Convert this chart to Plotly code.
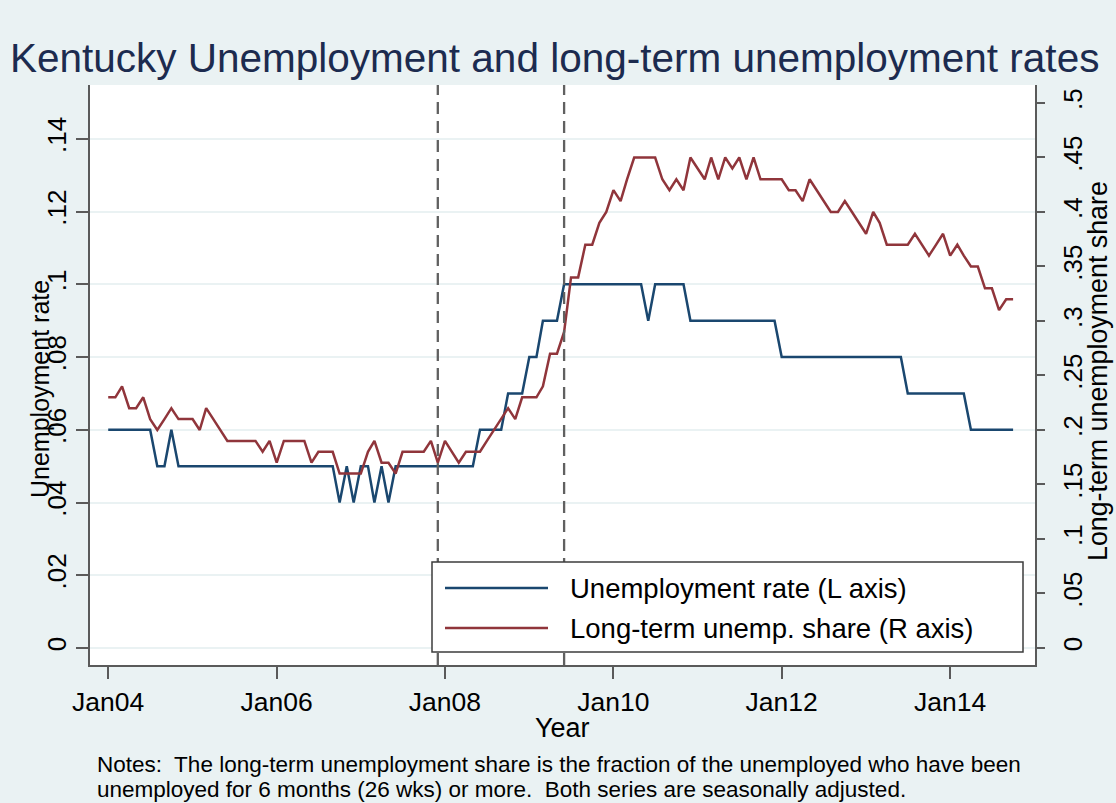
import pandas as pd
import plotly.graph_objects as go

# ---------------- data ----------------
months = pd.date_range("2004-01-01", periods=130, freq="MS")

unemp_rate = [
    # 2004
    .06, .06, .06, .06, .06, .06, .06, .05, .05, .06, .05, .05,
    # 2005
    .05, .05, .05, .05, .05, .05, .05, .05, .05, .05, .05, .05,
    # 2006
    .05, .05, .05, .05, .05, .05, .05, .05, .05, .04, .05, .04,
    # 2007
    .05, .05, .04, .05, .04, .05, .05, .05, .05, .05, .05, .05,
    # 2008
    .05, .05, .05, .05, .05, .06, .06, .06, .06, .07, .07, .07,
    # 2009
    .08, .08, .09, .09, .09, .10, .10, .10, .10, .10, .10, .10,
    # 2010
    .10, .10, .10, .10, .10, .09, .10, .10, .10, .10, .10, .09,
    # 2011
    .09, .09, .09, .09, .09, .09, .09, .09, .09, .09, .09, .09,
    # 2012
    .08, .08, .08, .08, .08, .08, .08, .08, .08, .08, .08, .08,
    # 2013
    .08, .08, .08, .08, .08, .08, .07, .07, .07, .07, .07, .07,
    # 2014
    .07, .07, .07, .06, .06, .06, .06, .06, .06, .06,
]

lt_share = [
    # 2004
    .23, .23, .24, .22, .22, .23, .21, .20, .21, .22, .21, .21,
    # 2005
    .21, .20, .22, .21, .20, .19, .19, .19, .19, .19, .18, .19,
    # 2006
    .17, .19, .19, .19, .19, .17, .18, .18, .18, .16, .16, .16,
    # 2007
    .16, .18, .19, .17, .17, .16, .18, .18, .18, .18, .19, .17,
    # 2008
    .19, .18, .17, .18, .18, .18, .19, .20, .21, .22, .21, .23,
    # 2009
    .23, .23, .24, .27, .27, .29, .34, .34, .37, .37, .39, .40,
    # 2010
    .42, .41, .43, .45, .45, .45, .45, .43, .42, .43, .42, .45,
    # 2011
    .44, .43, .45, .43, .45, .44, .45, .43, .45, .43, .43, .43,
    # 2012
    .43, .42, .42, .41, .43, .42, .41, .40, .40, .41, .40, .39,
    # 2013
    .38, .40, .39, .37, .37, .37, .37, .38, .37, .36, .37, .38,
    # 2014
    .36, .37, .36, .35, .35, .33, .33, .31, .32, .32,
]

recession_lines = ["2007-12-01", "2009-06-01"]

x_tickvals = ["2004-01-01", "2006-01-01", "2008-01-01", "2010-01-01", "2012-01-01", "2014-01-01"]
x_ticktext = ["Jan04", "Jan06", "Jan08", "Jan10", "Jan12", "Jan14"]

yl_tickvals = [0, .02, .04, .06, .08, .10, .12, .14]
yl_ticktext = ["0", ".02", ".04", ".06", ".08", ".1", ".12", ".14"]

yr_tickvals = [0, .05, .10, .15, .20, .25, .30, .35, .40, .45, .50]
yr_ticktext = ["0", ".05", ".1", ".15", ".2", ".25", ".3", ".35", ".4", ".45", ".5"]

series_names = ["Unemployment rate (L axis)", "Long-term unemp. share (R axis)"]

notes_lines = [
    "Notes:  The long-term unemployment share is the fraction of the unemployed who have been",
    "unemployed for 6 months (26 wks) or more.  Both series are seasonally adjusted.",
]

# ---------------- style ----------------
BLUE = "#1a476f"
RED = "#90353b"
BG = "#eaf2f3"
AXC = "#5a5a5a"
FONT = "Liberation Sans, Arial, Helvetica, sans-serif"

W, H = 1116, 803
L, R, T, B = 90, 81, 85, 138
PW, PH = W - L - R, H - T - B


def px_x(p):
    return (p - L) / PW


def px_y(p):
    return (H - B - p) / PH


fig = go.Figure()
fig.add_trace(go.Scatter(x=months, y=unemp_rate, mode="lines", name=series_names[0],
                         line=dict(color=BLUE, width=2.5), yaxis="y"))
fig.add_trace(go.Scatter(x=months, y=lt_share, mode="lines", name=series_names[1],
                         line=dict(color=RED, width=2.5), yaxis="y2"))

shapes = []
for d in recession_lines:
    shapes.append(dict(type="line", xref="x", yref="paper", x0=d, x1=d, y0=0, y1=1,
                       line=dict(color="#606060", width=2.3, dash="12px,7px"), layer="above"))

# legend box (drawn manually to match the long Stata legend keys)
shapes.append(dict(type="rect", xref="paper", yref="paper",
                   x0=px_x(432), x1=px_x(1023), y0=px_y(652), y1=px_y(562),
                   line=dict(color="#3c3c3c", width=1.5), fillcolor="white", layer="above"))
legend_rows = [(BLUE, 588), (RED, 628)]
annotations = []
for (col, yy), name in zip(legend_rows, series_names):
    shapes.append(dict(type="line", xref="paper", yref="paper",
                       x0=px_x(445), x1=px_x(548), y0=px_y(yy), y1=px_y(yy),
                       line=dict(color=col, width=2.5), layer="above"))
    annotations.append(dict(xref="paper", yref="paper", x=px_x(568), y=px_y(yy),
                            text=name, showarrow=False, xanchor="left", yanchor="middle",
                            font=dict(family=FONT, size=27.5, color="black")))

# axis titles
annotations.append(dict(xref="paper", yref="paper", x=px_x(40), y=px_y(389),
                        text="Unemployment rate", textangle=-90, showarrow=False,
                        xanchor="center", yanchor="middle",
                        font=dict(family=FONT, size=25, color="black")))
annotations.append(dict(xref="paper", yref="paper", x=px_x(1098), y=px_y(371),
                        text="Long-term unemployment share", textangle=-90, showarrow=False,
                        xanchor="center", yanchor="middle",
                        font=dict(family=FONT, size=26.8, color="black")))
annotations.append(dict(xref="paper", yref="paper", x=px_x(562), y=px_y(728),
                        text="Year", showarrow=False, xanchor="center", yanchor="middle",
                        font=dict(family=FONT, size=27, color="black")))
# notes
for txt, yy in zip(notes_lines, [764, 789]):
    annotations.append(dict(xref="paper", yref="paper", x=px_x(95), y=px_y(yy),
                            text=txt, showarrow=False, xanchor="left", yanchor="middle",
                            font=dict(family=FONT, size=22.5, color="black")))

fig.update_layout(
    width=W, height=H,
    margin=dict(l=L, r=R, t=T, b=B),
    paper_bgcolor=BG, plot_bgcolor="white",
    showlegend=False,
    title=dict(text="Kentucky Unemployment and long-term unemployment rates",
               x=0.497, xanchor="center", y=1 - 58 / H, yanchor="middle", yref="container",
               font=dict(family=FONT, size=40.5, color="#1c2b4f")),
    font=dict(family=FONT, color="black"),
    xaxis=dict(type="date", range=["2003-10-14", "2015-01-04"],
               tickvals=x_tickvals, ticktext=x_ticktext,
               ticks="outside", ticklen=12, tickwidth=1.5, tickcolor=AXC,
               showline=True, linecolor=AXC, linewidth=1.5,
               showgrid=False, zeroline=False,
               tickfont=dict(family=FONT, size=26.5, color="black")),
    yaxis=dict(range=[-0.00468, 0.1548], tickvals=yl_tickvals, ticktext=yl_ticktext,
               tickangle=-90, ticks="outside", ticklen=12, tickwidth=1.5, tickcolor=AXC,
               showline=True, linecolor=AXC, linewidth=1.5,
               showgrid=True, gridcolor=BG, gridwidth=1.5, zeroline=False,
               tickfont=dict(family=FONT, size=26, color="black")),
    yaxis2=dict(range=[-0.0156, 0.5165], tickvals=yr_tickvals, ticktext=yr_ticktext,
                overlaying="y", side="right",
                tickangle=-90, ticks="outside", ticklen=8, tickwidth=1.5, tickcolor=AXC,
                ticklabelstandoff=6,
                showline=True, linecolor=AXC, linewidth=1.5,
                showgrid=False, zeroline=False,
                tickfont=dict(family=FONT, size=26, color="black")),
    shapes=shapes,
    annotations=annotations,
)

fig.write_html(
    "out.html",
    config={"displayModeBar": False},
    post_script="document.body.style.margin='0';document.body.style.padding='0';"
                "document.body.style.overflow='hidden';",
)
